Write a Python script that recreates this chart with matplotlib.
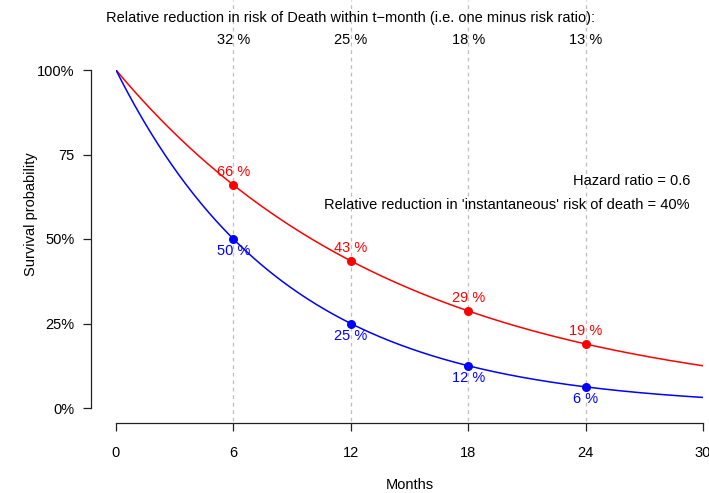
import numpy as np
import matplotlib
matplotlib.use("Agg")
import matplotlib.pyplot as plt

plt.rcParams['font.family'] = ['Liberation Sans', 'DejaVu Sans']

# ---- data ----
median_months = 6          # control arm median survival
hazard_ratio = 0.6
months = [6, 12, 18, 24]
control_surv = [0.50, 0.25, 0.125, 0.0625]
treat_surv = [0.66, 0.435, 0.287, 0.189]
control_labels = ["50 %", "25 %", "12 %", "6 %"]
treat_labels = ["66 %", "43 %", "29 %", "19 %"]
rel_reduction_labels = ["32 %", "25 %", "18 %", "13 %"]
x_ticks = [0, 6, 12, 18, 24, 30]
y_ticks = [0, 0.25, 0.5, 0.75, 1.0]
y_ticklabels = ["0%", "25%", "50%", "75", "100%"]

W, H = 709, 493
fig = plt.figure(figsize=(W / 100, H / 100), dpi=100)
x0, x1 = 116, 703
y0, y1 = 408, 70
ax = fig.add_axes([x0 / W, 1 - y0 / H, (x1 - x0) / W, (y0 - y1) / H])
ax.set_xlim(0, 30)
ax.set_ylim(0, 1)
ax.patch.set_visible(False)

# dashed vertical guides
ytop = (y0 - 0) / (y0 - y1)
ybot = -(421 - y0) / (y0 - y1)
for m in months:
    ax.plot([m, m], [ybot, ytop], ls=(0, (3, 3)), color="#BEBEBE", lw=0.9,
            clip_on=False, zorder=1)

t = np.linspace(0, 30, 400)
s_ctrl = 0.5 ** (t / median_months)
s_trt = s_ctrl ** hazard_ratio
ax.plot(t, s_trt, color="#FF0000", lw=1.1, zorder=3)
ax.plot(t, s_ctrl, color="#0000FF", lw=1.1, zorder=3)
ax.scatter(months, treat_surv, s=30, color="#FF0000", zorder=4)
ax.scatter(months, control_surv, s=30, color="#0000FF", zorder=4)

fs = 10.5
for m, v, lab in zip(months, treat_surv, treat_labels):
    ax.annotate(lab, (m, v), xytext=(0, 13), textcoords="offset pixels",
                ha="center", va="center", color="#FF0000", fontsize=fs)
for m, v, lab in zip(months, control_surv, control_labels):
    ax.annotate(lab, (m, v), xytext=(0, -12), textcoords="offset pixels",
                ha="center", va="center", color="#0000FF", fontsize=fs)

# top labels
for m, lab in zip(months, rel_reduction_labels):
    ax.annotate(lab, (m, 1), xytext=(0, (y1 - 40)), textcoords="offset pixels",
                ha="center", va="center", fontsize=fs)
fig.text(351 / W, 1 - 18 / H,
         "Relative reduction in risk of Death within t\u2212month (i.e. one minus risk ratio):",
         ha="center", va="center", fontsize=fs)

fig.text(690 / W, 1 - 181 / H, "Hazard ratio = 0.6", ha="right", va="center", fontsize=fs)
fig.text(690 / W, 1 - 205 / H,
         "Relative reduction in 'instantaneous' risk of death = 40%",
         ha="right", va="center", fontsize=fs)

# spines
for s in ["top", "right"]:
    ax.spines[s].set_visible(False)
ax.spines["left"].set_position(("outward", 25 * 0.72))
ax.spines["bottom"].set_position(("outward", 15 * 0.72))
ax.spines["left"].set_bounds(0, 1)
ax.spines["bottom"].set_bounds(0, 30)
for s in ["left", "bottom"]:
    ax.spines[s].set_linewidth(0.9)
    ax.spines[s].set_color("#222222")
ax.set_xticks(x_ticks)
ax.set_xticklabels([str(v) for v in x_ticks])
ax.set_yticks(y_ticks)
ax.set_yticklabels(y_ticklabels)
ax.tick_params(axis="both", length=6, width=0.9, color="#222222", labelsize=fs)
ax.tick_params(axis="x", pad=10.5)
ax.tick_params(axis="y", pad=6)

fig.text(409.5 / W, 1 - 485 / H, "Months", ha="center", va="center", fontsize=fs)
fig.text(31 / W, 1 - 214 / H, "Survival probability", ha="center", va="center",
         rotation=90, fontsize=fs)

fig.savefig("out.png", dpi=100)
